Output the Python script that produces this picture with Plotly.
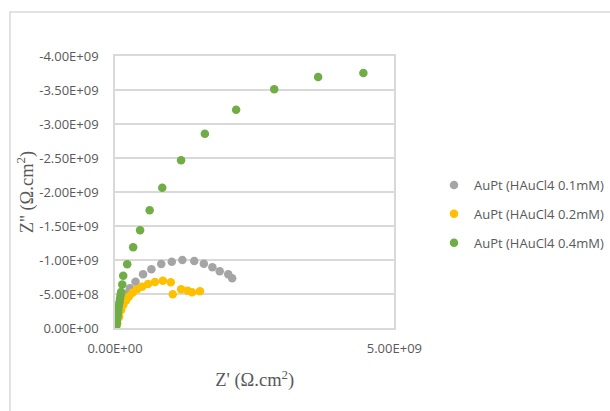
import plotly.graph_objects as go

# Nyquist data (Z' real, Z'' imaginary), ohm.cm^2
z_real_01 = [0.027e9, 0.05e9, 0.09e9, 0.14e9, 0.195e9, 0.266e9, 0.367e9, 0.502e9, 0.651e9,
             0.828e9, 1.016e9, 1.206e9, 1.418e9, 1.590e9, 1.743e9, 1.874e9, 2.027e9, 2.097e9]
z_imag_01 = [-0.05e9, -0.15e9, -0.26e9, -0.40e9, -0.50e9, -0.584e9, -0.681e9, -0.79e9, -0.863e9,
             -0.941e9, -0.975e9, -1.00e9, -0.985e9, -0.946e9, -0.893e9, -0.834e9, -0.79e9, -0.731e9]

z_real_02 = [0.02e9, 0.04e9, 0.076e9, 0.112e9, 0.147e9, 0.195e9, 0.248e9, 0.314e9, 0.395e9,
             0.484e9, 0.59e9, 0.715e9, 0.856e9, 0.998e9, 1.034e9, 1.183e9, 1.30e9, 1.378e9, 1.52e9]
z_imag_02 = [-0.015e9, -0.069e9, -0.166e9, -0.265e9, -0.338e9, -0.401e9, -0.46e9, -0.519e9, -0.569e9,
             -0.607e9, -0.647e9, -0.676e9, -0.696e9, -0.672e9, -0.496e9, -0.569e9, -0.549e9, -0.525e9, -0.54e9]

z_real_04 = [0.015e9, 0.02e9, 0.025e9, 0.03e9, 0.035e9, 0.04e9, 0.05e9, 0.055e9, 0.06e9, 0.07e9,
             0.08e9, 0.09e9, 0.10e9, 0.11e9, 0.13e9, 0.147e9, 0.218e9, 0.325e9, 0.449e9, 0.62e9,
             0.846e9, 1.183e9, 1.608e9, 2.168e9, 2.85e9, 3.635e9, 4.445e9]
z_imag_04 = [-0.01e9, -0.03e9, -0.05e9, -0.08e9, -0.11e9, -0.15e9, -0.19e9, -0.23e9, -0.28e9, -0.33e9,
             -0.38e9, -0.43e9, -0.48e9, -0.53e9, -0.64e9, -0.769e9, -0.937e9, -1.187e9, -1.437e9, -1.731e9,
             -2.063e9, -2.466e9, -2.857e9, -3.21e9, -3.51e9, -3.69e9, -3.75e9]

series_names = ["AuPt (HAuCl4 0.1mM)", "AuPt (HAuCl4 0.2mM)", "AuPt (HAuCl4 0.4mM)"]
series_colors = ["#A5A5A5", "#FFC000", "#70AD47"]

y_tick_values = [0, -0.5e9, -1.0e9, -1.5e9, -2.0e9, -2.5e9, -3.0e9, -3.5e9, -4.0e9]
x_tick_values = [0, 5.0e9]

tick_font = dict(family="Open Sans", size=13, color="#595959")
title_font = dict(family="Liberation Serif", size=18.5, color="#595959")
grid_color = "#D9D9D9"

fig = go.Figure()
for i, (xs, ys) in enumerate([(z_real_01, z_imag_01), (z_real_02, z_imag_02), (z_real_04, z_imag_04)]):
    fig.add_trace(go.Scatter(
        x=xs, y=ys, mode="markers", name=series_names[i],
        legendgroup=f"g{i}",
        marker=dict(size=8.5, color=series_colors[i], line=dict(width=0)),
    ))

fig.update_layout(
    width=610, height=411,
    margin=dict(l=115, r=213, t=56, b=83),
    paper_bgcolor="white", plot_bgcolor="white",
    showlegend=True,
    legend=dict(
        xref="container", yref="container",
        x=434 / 610, y=1 - 170 / 411, xanchor="left", yanchor="top",
        font=dict(family="Open Sans", size=13, color="#595959"),
        tracegroupgap=9, itemwidth=30,
        bgcolor="rgba(0,0,0,0)",
    ),
    xaxis=dict(
        range=[0, 5.0e9], tickvals=x_tick_values,
        ticktext=[f"{v:.2E}" for v in x_tick_values],
        tickfont=tick_font, showgrid=False, zeroline=False,
        showline=True, linecolor=grid_color, linewidth=1.5, mirror=True,
        ticks="", ticklabelstandoff=8,
        title=dict(text="Z' (Ω.cm<sup>2</sup>)", font=title_font, standoff=17),
    ),
    yaxis=dict(
        range=[0, -4.0e9], tickvals=y_tick_values,
        ticktext=[f"{v:.2E}" for v in y_tick_values],
        tickfont=tick_font, showgrid=True, gridcolor=grid_color, gridwidth=1.5,
        zeroline=False, showline=True, linecolor=grid_color, linewidth=1.5, mirror=True,
        ticks="", ticklabelstandoff=12,
        title=dict(text="Z'' (Ω.cm<sup>2</sup>)", font=title_font, standoff=1),
    ),
    shapes=[dict(type="rect", xref="paper", yref="paper",
                 x0=(9 - 115) / 282, x1=(640 - 115) / 282,
                 y0=(328 - 440) / 272, y1=(328 - 12) / 272,
                 line=dict(color=grid_color, width=1.5), layer="below")],
)

fig.write_html("out.html")
